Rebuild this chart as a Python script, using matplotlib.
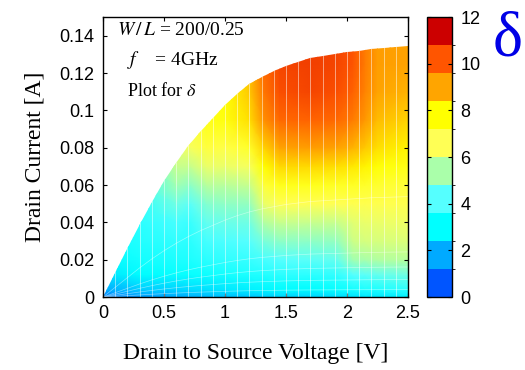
import numpy as np
import matplotlib
matplotlib.use('Agg')
import matplotlib.pyplot as plt
from matplotlib.colors import ListedColormap, LinearSegmentedColormap, BoundaryNorm, Normalize
from matplotlib.patches import Polygon
from matplotlib.cm import ScalarMappable

matplotlib.rcParams['mathtext.fontset'] = 'stix'

# outer boundary: drain current at the highest gate bias
vds_edge = [0, 0.1, 0.2, 0.3, 0.4, 0.5, 0.6, 0.7, 0.8, 0.9, 1.0, 1.1, 1.2, 1.3,
            1.4, 1.5, 1.6, 1.7, 1.8, 1.9, 2.0, 2.1, 2.2, 2.3, 2.4, 2.5]
id_max = [0, 0.013, 0.026, 0.039, 0.051, 0.062, 0.072, 0.081, 0.089, 0.096,
          0.103, 0.109, 0.114, 0.118, 0.121, 0.124, 0.126, 0.128, 0.129, 0.130,
          0.131, 0.132, 0.133, 0.1335, 0.134, 0.1345]

# delta sampled on a (Vds, Id) grid; one row per Vds column, bottom -> top in Id
vds_grid = [0, 0.3, 0.6, 0.72, 0.85, 1.0, 1.2, 1.32, 1.45, 1.7, 1.92, 2.05, 2.15, 2.25, 2.5]
id_grid = [0, 0.004, 0.012, 0.02, 0.03, 0.04, 0.05, 0.06, 0.07, 0.08, 0.095, 0.11, 0.125, 0.14]
delta = [
    [1.2, 1.8, 2.6, 3.0, 3.2, 3.3, 3.4, 3.4, 3.4, 3.4, 3.4, 3.4, 3.4, 3.4],
    [1.6, 2.3, 3.0, 3.3, 3.5, 3.6, 3.7, 3.8, 3.8, 3.8, 3.8, 3.8, 3.8, 3.8],
    [1.8, 2.4, 3.1, 3.4, 3.7, 4.0, 4.6, 5.3, 5.8, 6.2, 6.5, 6.5, 6.5, 6.5],
    [1.9, 2.5, 3.1, 3.4, 3.6, 3.8, 4.3, 5.0, 5.8, 6.5, 7.0, 7.0, 7.0, 7.0],
    [2.0, 2.6, 3.2, 3.6, 4.0, 4.4, 4.9, 5.6, 6.3, 6.9, 7.5, 7.6, 7.6, 7.6],
    [2.1, 2.7, 3.3, 3.7, 4.1, 4.5, 5.0, 5.6, 6.3, 6.8, 7.6, 7.8, 7.8, 7.8],
    [2.2, 2.8, 3.4, 3.8, 4.2, 4.6, 5.1, 5.8, 6.5, 7.2, 8.2, 8.5, 8.6, 8.6],
    [2.3, 2.9, 3.5, 4.0, 4.7, 5.5, 6.3, 7.0, 7.8, 8.4, 9.3, 9.7, 9.9, 9.9],
    [2.4, 3.0, 3.6, 4.2, 5.0, 5.8, 6.6, 7.4, 8.3, 9.0, 9.9, 10.3, 10.4, 10.4],
    [2.4, 3.0, 3.6, 4.3, 5.0, 5.8, 6.6, 7.4, 8.3, 9.1, 10.0, 10.4, 10.5, 10.5],
    [2.5, 3.1, 3.7, 4.4, 5.1, 5.8, 6.6, 7.3, 8.2, 9.0, 9.9, 10.3, 10.4, 10.4],
    [2.6, 3.3, 4.2, 5.3, 5.9, 6.2, 6.7, 7.3, 8.1, 8.8, 9.6, 10.0, 10.2, 10.2],
    [2.7, 3.4, 4.3, 5.4, 6.0, 6.3, 6.7, 7.2, 7.9, 8.5, 9.2, 9.5, 9.6, 9.6],
    [2.7, 3.4, 4.4, 5.5, 6.0, 6.3, 6.7, 7.1, 7.7, 8.2, 8.7, 9.0, 9.1, 9.1],
    [2.8, 3.6, 4.6, 5.6, 6.1, 6.4, 6.7, 7.0, 7.5, 7.9, 8.4, 8.8, 9.0, 9.0],
]

# colour levels of the colorbar, bottom -> top
level_colors = ['#0055ff', '#00aaff', '#00ffff', '#55ffff', '#aaffaa',
                '#ffff55', '#ffff00', '#ffa500', '#ff5500', '#cc0000']
cbar_ticks = [0, 2, 4, 6, 8, 10, 12]
mesh_fracs = [0.03, 0.07, 0.12, 0.18, 0.4]

fig = plt.figure(figsize=(5.25, 3.7), dpi=100)
ax = fig.add_axes([0.196, 0.197, 0.581, 0.757])

V, I = np.meshgrid(vds_grid, id_grid, indexing='ij')
smooth = LinearSegmentedColormap.from_list('smooth', level_colors)
mesh = ax.pcolormesh(V, I, np.array(delta), cmap=smooth,
                     norm=Normalize(vmin=0.6, vmax=11.4), shading='gouraud')

outline = list(zip(vds_edge, id_max)) + [(2.5, 0), (0, 0)]
clip = Polygon(outline, closed=True, facecolor='none', edgecolor='none')
ax.add_patch(clip)
mesh.set_clip_path(clip)

# faint white surface edges
vl = ax.vlines(vds_edge, 0, 0.15, colors='white', linewidth=0.7, alpha=0.5)
vl.set_clip_path(clip)
for f in mesh_fracs:
    ln, = ax.plot(vds_edge, np.array(id_max) * f, color='white', lw=0.5, alpha=0.45)
    ln.set_clip_path(clip)

ax.set_xlim(0, 2.5)
ax.set_ylim(0, 0.15)
ax.set_xticks([0, 0.5, 1, 1.5, 2, 2.5])
ax.set_xticklabels(['0', '0.5', '1', '1.5', '2', '2.5'])
ax.set_yticks([0, 0.02, 0.04, 0.06, 0.08, 0.1, 0.12, 0.14])
ax.set_yticklabels(['0', '0.02', '0.04', '0.06', '0.08', '0.1', '0.12', '0.14'])
ax.tick_params(direction='in', top=True, right=True, length=3, labelsize=13, pad=6)
for lab in ax.get_xticklabels() + ax.get_yticklabels():
    lab.set_family('Liberation Sans')
for s in ax.spines.values():
    s.set_linewidth(1.0)

ax.set_xlabel('Drain to Source Voltage [V]', family='Liberation Serif', fontsize=17, labelpad=15)
ax.set_ylabel('Drain Current [A]', family='Liberation Serif', fontsize=17, labelpad=10)

ax.text(0.045, 0.952, r'$W\,/\,L$ = 200/0.25', transform=ax.transAxes, va='center',
        family='Liberation Serif', fontsize=14)
ax.text(0.08, 0.845, r'$f$    = 4GHz', transform=ax.transAxes, va='center',
        family='Liberation Serif', fontsize=14)
ax.text(0.08, 0.735, r'Plot for $\delta$', transform=ax.transAxes, va='center',
        family='Liberation Serif', fontsize=13)

# discrete colorbar
cax = fig.add_axes([0.813, 0.197, 0.048, 0.757])
sm = ScalarMappable(cmap=ListedColormap(level_colors),
                    norm=BoundaryNorm(np.linspace(0, 12, 11), 10))
cb = fig.colorbar(sm, cax=cax, ticks=cbar_ticks)
cb.outline.set_linewidth(1.0)
cax.tick_params(direction='in', left=True, right=True, length=3, labelsize=13, pad=6)
for lab in cax.get_yticklabels():
    lab.set_family('Liberation Sans')

fig.text(0.938, 0.849, 'δ', color='#0000e6', family='Liberation Serif',
         fontsize=46, va='baseline')

fig.savefig('out.png', dpi=100)
